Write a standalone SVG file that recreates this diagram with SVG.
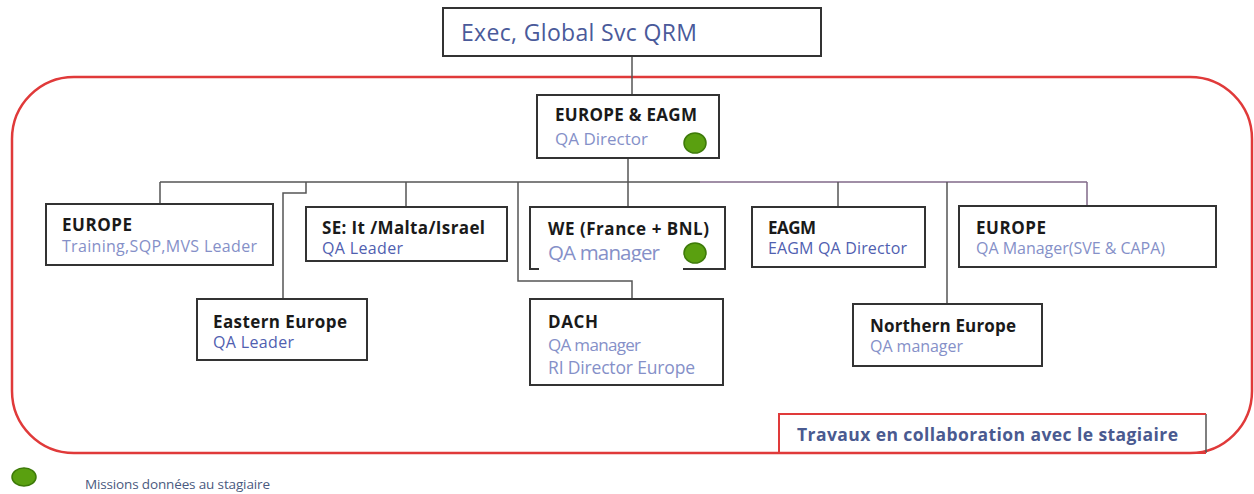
<svg xmlns="http://www.w3.org/2000/svg" width="1254" height="494" viewBox="0 0 1254 494">
<style>
.box{fill:#ffffff;stroke:#333333;stroke-width:2}
.t{font-family:"Open Sans","Liberation Sans",sans-serif;font-size:17px;font-weight:bold;fill:#1a1a1a}
.s{font-family:"Open Sans","Liberation Sans",sans-serif;font-size:16px;fill:#8590c8}
.m{font-family:"Open Sans","Liberation Sans",sans-serif;font-size:16px;fill:#5060b0}
.ln{fill:none;stroke:#555555;stroke-width:1.5}
.lp{fill:none;stroke:#806888;stroke-width:1.5}
.dot{fill:#5aa010;stroke:#3d7a08;stroke-width:1.5}
</style>
<rect width="1254" height="494" fill="#ffffff"/>
<rect id="frame" x="12" y="77" width="1240" height="376" rx="62" ry="62" fill="none" stroke="#e03a3a" stroke-width="2.5"/>
<g id="connectors">
<path class="ln" d="M632 56 V95"/>
<path class="ln" d="M628 158 V182"/>
<path class="ln" d="M160 182 H700"/>
<path class="lp" d="M700 182 H1087"/>
<path class="ln" d="M160 182 V204"/>
<path class="ln" d="M306 182 V193 H283 V299"/>
<path class="ln" d="M406 182 V207"/>
<path class="ln" d="M518 182 V281 H632 V299"/>
<path class="ln" d="M628 182 V207"/>
<path class="ln" d="M838 182 V207"/>
<path class="ln" d="M947 182 V304"/>
<path class="lp" d="M1087 182 V206"/>
</g>
<g id="exec">
<rect class="box" x="443" y="8" width="378" height="48"/>
<text x="461" y="41" font-family="Open Sans, Liberation Sans, sans-serif" font-size="23" fill="#4a5a9a" textLength="236">Exec, Global Svc QRM</text>
</g>
<g id="europe-eagm">
<rect class="box" x="537" y="95" width="182" height="63"/>
<text class="t" x="555" y="121" textLength="142">EUROPE &amp; EAGM</text>
<text class="s" x="555" y="145" style="font-size:17px" textLength="93">QA Director</text>
<ellipse class="dot" cx="695" cy="143" rx="11" ry="10"/>
</g>
<g id="europe-training">
<rect class="box" x="46" y="204" width="227" height="61"/>
<text class="t" x="62" y="231" textLength="70">EUROPE</text>
<text class="s" x="62" y="252" textLength="195">Training,SQP,MVS  Leader</text>
</g>
<g id="eastern-europe">
<rect class="box" x="197" y="299" width="170" height="61"/>
<text class="t" x="213" y="328" textLength="134">Eastern Europe</text>
<text class="m" x="213" y="348" textLength="81">QA Leader</text>
</g>
<g id="se">
<rect class="box" x="306" y="207" width="201" height="54"/>
<text class="t" x="322" y="234" textLength="163">SE: It /Malta/Israel</text>
<text class="m" x="322" y="254" textLength="81">QA Leader</text>
</g>
<g id="we">
<rect class="box" x="530" y="207" width="195" height="62"/>
<text class="t" x="548" y="235" textLength="161">WE (France + BNL)</text>
<text class="s" x="548" y="260" style="font-size:20.5px" textLength="112">QA manager</text>
<ellipse class="dot" cx="695" cy="253" rx="11" ry="10"/>
<rect x="539" y="262" width="144" height="10" fill="#ffffff"/>
</g>
<g id="dach">
<rect class="box" x="530" y="299" width="193" height="86"/>
<text class="t" x="548" y="328" textLength="50">DACH</text>
<text class="s" x="548" y="351" style="font-size:17px" textLength="93">QA manager</text>
<text class="s" x="548" y="374" style="font-size:17.5px" textLength="147">RI Director Europe</text>
</g>
<g id="eagm">
<rect class="box" x="752" y="207" width="173" height="60"/>
<text class="t" x="768" y="234" textLength="48">EAGM</text>
<text class="m" x="768" y="254" textLength="139">EAGM QA Director</text>
</g>
<g id="europe-qa">
<rect class="box" x="959" y="206" width="257" height="61"/>
<text class="t" x="976" y="234" textLength="70">EUROPE</text>
<text class="s" x="976" y="254" textLength="189">QA Manager(SVE &amp; CAPA)</text>
</g>
<g id="northern-europe">
<rect class="box" x="853" y="304" width="189" height="62"/>
<text class="t" x="870" y="332" textLength="146">Northern Europe</text>
<text class="s" x="870" y="352" textLength="93">QA manager</text>
</g>
<g id="travaux">
<path d="M1206 414 V453" stroke="#555555" stroke-width="1.5" fill="none"/>
<path d="M1206 414 H779 V453 H1206" stroke="#e03a3a" stroke-width="2" fill="none"/>
<text x="797" y="441" font-family="Open Sans, Liberation Sans, sans-serif" font-size="17.5" font-weight="bold" fill="#4a5a90" textLength="381">Travaux en collaboration  avec le stagiaire</text>
</g>
<g id="legend">
<ellipse class="dot" cx="24" cy="477" rx="12" ry="9"/>
<text x="85" y="489" font-family="Open Sans, Liberation Sans, sans-serif" font-size="13.5" fill="#4a5a80" textLength="185">Missions données au stagiaire</text>
</g>
</svg>
